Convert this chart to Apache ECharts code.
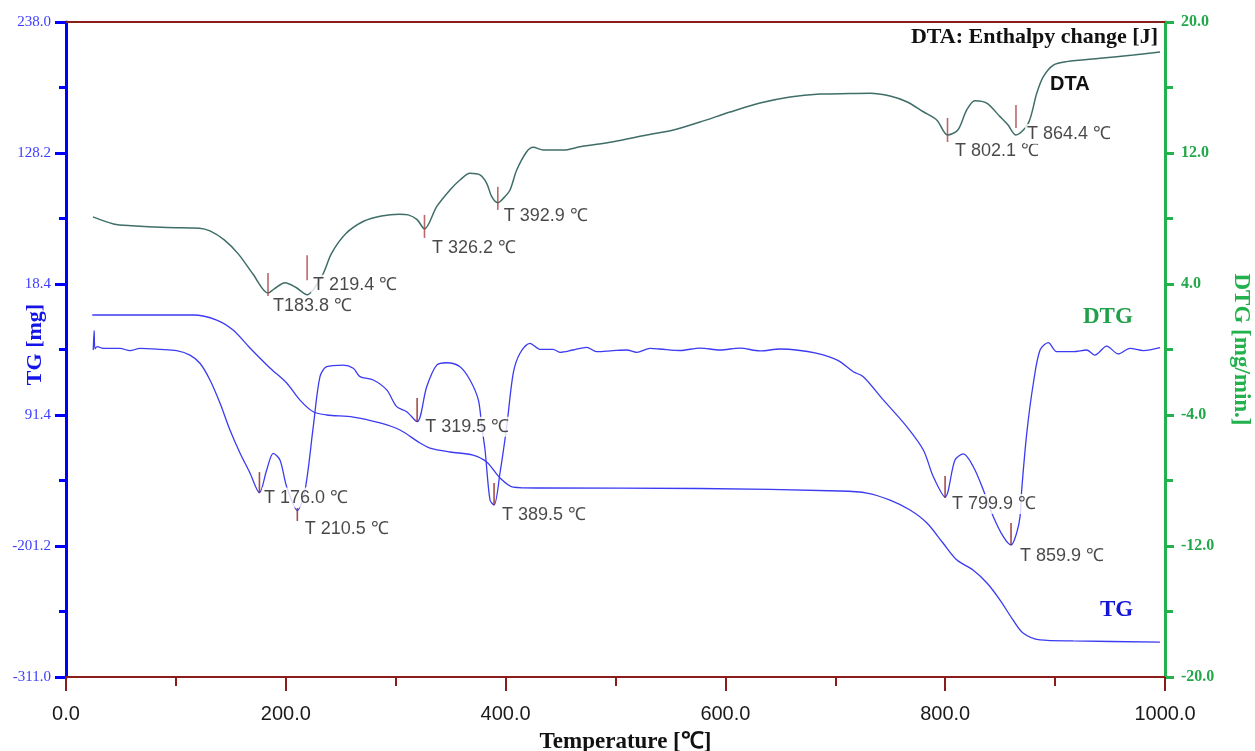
<!DOCTYPE html>
<html>
<head>
<meta charset="utf-8">
<script src="https://cdn.jsdelivr.net/npm/echarts@6/dist/echarts.min.js"></script>
<style>
    html, body { margin: 0; padding: 0; background: #fff; }
    #container { width: 1255px; height: 751px; }
</style>
</head>
<body>
<div id="container"></div>
<script>
// TG curve (left axis, mg)
var tgTemp = [23.9, 115.8, 137.1, 152.0, 167.4, 185.6, 200.8, 212.9, 225.0, 237.2, 261.4, 285.7, 303.9, 322.1,
    331.2, 349.4, 370.3, 382.8, 394.9, 406.7, 431.3, 576.9, 704.3, 728.8, 749.8, 768.0, 783.4, 798.0, 810.7,
    825.3, 838.0, 849.9, 861.7, 870.8, 886.2, 916.3, 995.4];
var tgVal = [-7.6, -7.6, -11.8, -20.2, -35.2, -52.0, -64.6, -78.9, -88.7, -91.4, -93.1, -98.1, -104.0, -114.9,
    -119.1, -122.4, -125.0, -130.8, -144.2, -151.8, -152.6, -153.0, -155.1, -156.8, -162.7, -171.0, -181.9, -198.7, -213.0,
    -221.3, -232.2, -246.5, -263.2, -274.1, -279.9, -280.8, -281.7];

// DTG curve (right axis, mg/min.)
var dtgTemp = [24.8, 25.6, 26.4, 28.5, 33.9, 49.1, 58.2, 67.3, 85.5, 100.7, 112.8, 121.9, 131.0, 140.1, 149.2,
    158.3, 167.4, 176.0, 182.6, 188.6, 194.7, 200.8, 210.5, 217.5, 225.0, 231.1, 237.2, 252.3, 261.4, 267.5,
    279.6, 291.8, 300.9, 310.0, 319.5, 328.2, 337.3, 346.4, 358.5, 367.6, 375.2, 378.3, 381.3, 385.8, 389.5,
    394.9, 401.0, 407.0, 413.1, 422.2, 431.3, 443.1, 449.5, 461.3, 473.8, 482.9, 497.7, 510.2, 519.3, 531.4,
    540.5, 558.7, 576.9, 595.1, 613.3, 631.5, 649.7, 667.9, 681.5, 695.2, 704.3, 716.4, 725.5, 743.7, 765.0,
    780.1, 789.2, 799.9, 808.9, 816.5, 825.6, 834.7, 843.8, 852.9, 859.9, 865.0, 868.1, 869.6, 874.2, 880.2,
    886.3, 893.8, 901.5, 916.6, 928.8, 936.3, 946.9, 957.5, 968.1, 980.3, 995.5];
var dtgVal = [-0.03, 1.15, 0.05, 0.17, 0.07, 0.07, -0.07, 0.07, 0.01, -0.07, -0.34, -0.84, -1.86, -3.27, -4.92,
    -6.32, -7.54, -8.74, -7.36, -6.34, -6.75, -8.38, -9.83, -8.58, -4.71, -1.66, -1.05, -0.95, -1.15, -1.66,
    -1.86, -2.47, -3.49, -3.80, -4.41, -2.27, -0.95, -0.81, -1.05, -1.86, -3.08, -4.71, -6.14, -9.19, -9.50,
    -7.54, -4.71, -1.43, -0.23, 0.38, 0.01, 0.01, -0.17, -0.03, 0.13, -0.13, -0.07, -0.03, -0.17, 0.07,
    0.03, -0.06, 0.09, -0.03, 0.09, -0.09, 0.03, -0.06, -0.21, -0.46, -0.74, -1.36, -1.66, -3.08, -4.71,
    -6.14, -7.77, -9.01, -6.75, -6.38, -7.16, -8.58, -10.21, -11.43, -11.94, -11.21, -10.21, -8.58, -5.12, -2.06,
    -0.03, 0.42, -0.13, -0.13, -0.03, -0.34, 0.21, -0.27, 0.07, -0.07, 0.11];

// DTA curve (drawn against the right scale)
var dtaTemp = [24.5, 43.3, 59.5, 91.9, 121.3, 131.0, 144.0, 157.1, 170.1, 183.8, 189.5, 199.3, 209.0, 219.4,
    233.4, 241.5, 254.5, 270.8, 287.0, 303.3, 311.4, 319.5, 326.2, 337.3, 349.4, 358.5, 367.6, 376.7, 382.8,
    387.4, 392.9, 397.9, 404.0, 410.1, 419.2, 425.2, 434.3, 452.5, 467.7, 498.0, 528.4, 552.6, 576.9, 604.2,
    631.5, 658.8, 686.1, 713.4, 731.6, 749.8, 765.0, 780.1, 792.3, 802.1, 811.5, 819.6, 827.1, 837.8, 849.9,
    857.0, 864.4, 875.6, 883.3, 889.3, 898.4, 910.5, 940.9, 971.2, 995.5];
var dtaVal = [8.10, 7.67, 7.56, 7.45, 7.41, 7.24, 6.69, 5.81, 4.61, 3.45, 3.70, 4.08, 3.80, 3.35,
    4.56, 5.86, 7.07, 7.83, 8.15, 8.26, 8.22, 7.93, 7.36, 8.72, 9.74, 10.35, 10.76, 10.66, 10.15,
    9.33, 8.96, 9.23, 9.74, 10.96, 12.08, 12.35, 12.18, 12.18, 12.38, 12.69, 13.10, 13.40, 13.89, 14.50,
    15.05, 15.42, 15.60, 15.63, 15.65, 15.48, 15.13, 14.52, 14.02, 13.10, 13.40, 14.63, 15.19, 15.04, 14.22,
    13.72, 13.10, 13.81, 15.65, 16.66, 17.37, 17.58, 17.78, 17.98, 18.17];

// peak marks
var dtaPeakTemp = [183.8, 219.4, 326.2, 392.9, 802.1, 864.4];
var dtaPeakVal = [3.45, 3.35, 7.36, 8.96, 13.10, 13.10];
var dtaPeakText = ['T183.8 ℃', 'T 219.4 ℃', 'T 326.2 ℃', 'T 392.9 ℃', 'T 802.1 ℃', 'T 864.4 ℃'];
var dtgPeakTemp = [176.0, 210.5, 319.5, 389.5, 799.9, 859.9];
var dtgPeakVal = [-8.74, -9.83, -4.41, -9.50, -9.01, -11.94];
var dtgPeakText = ['T 176.0 ℃', 'T 210.5 ℃', 'T 319.5 ℃', 'T 389.5 ℃', 'T 799.9 ℃', 'T 859.9 ℃'];

// axis ticks
var tgTicks = [238.0, 128.2, 18.4, -91.4, -201.2, -311.0];
var tgTickLabels = ['238.0', '128.2', '18.4', '91.4', '-201.2', '-311.0'];
var dtgTicks = [20, 12, 4, -4, -12, -20];

var pairs = function (xs, ys) {
    return xs.map((x, i) => [x, ys[i]]);
};
var halves = function (ticks) {
    let ret = [];
    for (let i = 0; i < ticks.length - 1; i++) {
        ret.push((ticks[i] + ticks[i + 1]) / 2);
    }
    return ret;
};

// layout of the little red marks and their texts (px, relative to the peak point)
var dtaMark = {len: [23, 25, 23, 23, 24, 23], dy: [-8.5, -27, -2.6, -4.4, -5, -18.6],
    tx: [2.5, 3.5, 5, 3.5, 5, 8.5], ty: [13, -10, 19, 13, 16, -1]};
var dtgMark = {len: [21, 13, 24, 22, 22, 22], dy: [-10, 4, -11.7, -11, -10, -11],
    tx: [2, 5, 5.5, 5.5, 4.5, 6.5], ty: [5, 18.5, 5, 10, 7, 11]};

var BLUE = '#0000ff';
var GREEN = '#22b14c';
var DARKRED = '#8b1c1c';
var SERIF = '"Liberation Serif", "Times New Roman", serif';
var SANS = '"Liberation Sans", Arial, sans-serif';

var markSeries = function (temps, vals, mark, color) {
    return {
        type: 'scatter',
        yAxisIndex: 1,
        z: 12,
        silent: true,
        symbol: 'rect',
        itemStyle: {color: color},
        data: temps.map((t, i) => ({
            value: [t, vals[i]],
            symbolSize: [1.6, mark.len[i]],
            symbolOffset: [0, mark.dy[i]]
        }))
    };
};
var textSeries = function (temps, vals, texts, mark) {
    return {
        type: 'scatter',
        yAxisIndex: 1,
        z: 10,
        silent: true,
        symbolSize: 1,
        itemStyle: {color: 'rgba(0,0,0,0)'},
        label: {
            show: true,
            position: 'right',
            distance: 0,
            formatter: (p) => texts[p.dataIndex],
            color: '#1a1a1a',
            fontSize: 18,
            fontFamily: SANS,
            backgroundColor: '#fff',
            padding: [2, 2, 0, 2]
        },
        data: temps.map((t, i) => ({
            value: [t, vals[i]],
            label: {offset: [mark.tx[i], mark.ty[i]]}
        }))
    };
};

var myChart = echarts.init(document.getElementById('container'), null, {renderer: 'canvas'});

var option = {
    animation: false,
    backgroundColor: '#fff',
    grid: {left: 66, right: 90, top: 22, bottom: 74, containLabel: false, outerBoundsMode: 'none'},
    xAxis: [{
        type: 'value',
        min: 0,
        max: 1000,
        interval: 200,
        position: 'bottom',
        name: 'Temperature [℃]',
        nameLocation: 'middle',
        nameGap: 54,
        nameMoveOverlap: false,
        nameTextStyle: {color: '#111', fontSize: 23, fontWeight: 'bold', fontFamily: SERIF,
            padding: [0, 0, 0, 20]},
        axisLine: {onZero: false, lineStyle: {color: DARKRED, width: 2}},
        axisTick: {length: 14, lineStyle: {color: DARKRED, width: 2}},
        minorTick: {show: true, splitNumber: 2, length: 9, lineStyle: {color: DARKRED, width: 2}},
        axisLabel: {margin: 27, color: '#1a1a1a', fontSize: 20, fontFamily: SANS,
            formatter: (v) => v.toFixed(1)},
        splitLine: {show: false}
    }, {
        type: 'value',
        min: 0,
        max: 1000,
        position: 'top',
        axisLine: {onZero: false, lineStyle: {color: DARKRED, width: 2}},
        axisTick: {show: false},
        axisLabel: {show: false},
        splitLine: {show: false}
    }],
    yAxis: [{
        type: 'value',
        min: -311,
        max: 238,
        position: 'left',
        name: 'TG [mg]',
        nameLocation: 'middle',
        nameGap: 20,
        nameMoveOverlap: false,
        nameTextStyle: {color: '#1414e6', fontSize: 22, fontWeight: 'bold', fontFamily: SERIF,
            padding: [0, 0, 0, 10]},
        axisLine: {show: true, onZero: false, lineStyle: {color: BLUE, width: 3}},
        axisTick: {show: true, length: 11, customValues: tgTicks, lineStyle: {color: BLUE, width: 3}},
        axisLabel: {margin: 15, customValues: tgTicks, color: '#3c3cff', fontSize: 15, fontFamily: SERIF,
            formatter: function (v) {
                let i = tgTicks.findIndex((t) => Math.abs(t - v) < 1e-6);
                return i >= 0 ? tgTickLabels[i] : '';
            }},
        splitLine: {show: false}
    }, {
        type: 'value',
        min: -20,
        max: 20,
        position: 'right',
        name: 'DTG [mg/min.]',
        nameLocation: 'middle',
        nameRotate: -90,
        nameGap: 64,
        nameMoveOverlap: false,
        nameTextStyle: {color: GREEN, fontSize: 23, fontWeight: 'bold', fontFamily: SERIF},
        axisLine: {show: true, onZero: false, lineStyle: {color: GREEN, width: 3}},
        axisTick: {show: true, length: 9, customValues: dtgTicks, lineStyle: {color: GREEN, width: 3}},
        axisLabel: {margin: 16, customValues: dtgTicks, color: '#22a84a', fontSize: 16, fontWeight: 'bold',
            fontFamily: SERIF, formatter: (v) => v.toFixed(1)},
        splitLine: {show: false}
    }, {
        // minor ticks, left
        type: 'value',
        min: -311,
        max: 238,
        position: 'left',
        axisLine: {show: false, onZero: false},
        axisTick: {show: true, length: 7, customValues: halves(tgTicks), lineStyle: {color: BLUE, width: 3}},
        axisLabel: {show: false},
        splitLine: {show: false}
    }, {
        // minor ticks, right
        type: 'value',
        min: -20,
        max: 20,
        position: 'right',
        axisLine: {show: false, onZero: false},
        axisTick: {show: true, length: 8, customValues: halves(dtgTicks), lineStyle: {color: GREEN, width: 3}},
        axisLabel: {show: false},
        splitLine: {show: false}
    }],
    series: [{
        name: 'DTA',
        type: 'line',
        yAxisIndex: 1,
        z: 2,
        smooth: 0.3,
        showSymbol: false,
        silent: true,
        lineStyle: {color: '#3f6e68', width: 1.5},
        data: pairs(dtaTemp, dtaVal)
    }, {
        name: 'TG',
        type: 'line',
        yAxisIndex: 0,
        z: 2,
        smooth: 0.3,
        showSymbol: false,
        silent: true,
        lineStyle: {color: '#3b3bf2', width: 1.3},
        data: pairs(tgTemp, tgVal)
    }, {
        name: 'DTG',
        type: 'line',
        yAxisIndex: 1,
        z: 2,
        smooth: 0.3,
        showSymbol: false,
        silent: true,
        lineStyle: {color: '#3b3bf2', width: 1.3},
        data: pairs(dtgTemp, dtgVal)
    },
        textSeries(dtaPeakTemp, dtaPeakVal, dtaPeakText, dtaMark),
        textSeries(dtgPeakTemp, dtgPeakVal, dtgPeakText, dtgMark),
        markSeries(dtaPeakTemp, dtaPeakVal, dtaMark, '#a94442'),
        markSeries(dtgPeakTemp, dtgPeakVal, dtgMark, '#8e1e1e')
    ],
    graphic: [{
        type: 'text', x: 1158, y: 37, z: 20,
        style: {text: 'DTA: Enthalpy change [J]', align: 'right', verticalAlign: 'middle',
            font: 'bold 22px ' + SERIF, fill: '#111'}
    }, {
        type: 'text', x: 1050, y: 84, z: 20,
        style: {text: 'DTA', align: 'left', verticalAlign: 'middle', font: 'bold 20px ' + SANS, fill: '#111'}
    }, {
        type: 'text', x: 1083, y: 317, z: 20,
        style: {text: 'DTG', align: 'left', verticalAlign: 'middle', font: 'bold 23px ' + SERIF, fill: '#21a04a'}
    }, {
        type: 'text', x: 1100, y: 610, z: 20,
        style: {text: 'TG', align: 'left', verticalAlign: 'middle', font: 'bold 23px ' + SERIF, fill: '#1515d8'}
    }]
};
myChart.setOption(option);
</script>
</body>
</html>
